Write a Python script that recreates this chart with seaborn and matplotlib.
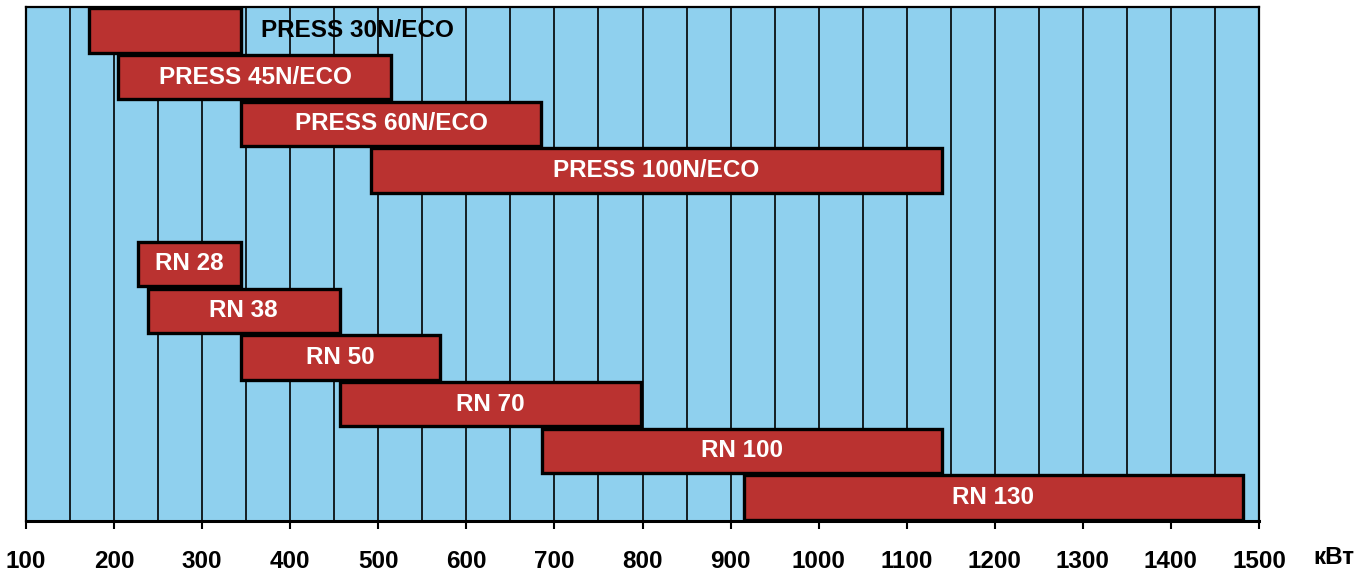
import matplotlib
matplotlib.use("Agg")
import matplotlib.pyplot as plt
from matplotlib.ticker import MultipleLocator
import seaborn as sns
import numpy as np

# ---- data ----
models = ["PRESS 30N/ECO", "PRESS 45N/ECO", "PRESS 60N/ECO", "PRESS 100N/ECO", "",
          "RN 28", "RN 38", "RN 50", "RN 70", "RN 100", "RN 130"]
power_min = [172, 205, 344, 492, None, 227, 238, 344, 456, 686, 915]
power_max = [344, 515, 685, 1140, None, 344, 456, 570, 798, 1140, 1482]
x_ticks = [100, 200, 300, 400, 500, 600, 700, 800, 900, 1000, 1100, 1200, 1300, 1400, 1500]
unit_label = "кВт"

sns.set_theme(style="white")
plt.rcParams["font.family"] = ["Liberation Sans", "DejaVu Sans"]
plt.rcParams["font.weight"] = "bold"

BLUE = "#8FD0EE"
RED = "#BA3230"
FS = 17.5

fig = plt.figure(figsize=(13.71, 5.74), dpi=100)
ax = fig.add_axes([26/1371, 1 - 521/574, (1259-26)/1371, (521-7)/574])
ax.set_facecolor(BLUE)

ypos = np.arange(len(models))
for i, (name, lo, hi) in enumerate(zip(models, power_min, power_max)):
    if lo is None:
        continue
    ax.barh(ypos[i], hi - lo, left=lo, height=0.95, color=RED,
            edgecolor="black", linewidth=2.4, zorder=3)
    if i == 0:
        ax.text(476, ypos[i], name, ha="center", va="center", color="black",
                fontsize=FS, fontweight="bold", zorder=4)
    else:
        ax.text((lo + hi) / 2, ypos[i], name, ha="center", va="center", color="white",
                fontsize=FS, fontweight="bold", zorder=4)

ax.set_xlim(x_ticks[0], x_ticks[-1])
ax.set_ylim(len(models) - 0.5, -0.5)
ax.set_xticks(x_ticks)
ax.set_xticklabels([str(t) for t in x_ticks], fontsize=FS, fontweight="bold", color="black")
ax.xaxis.set_minor_locator(MultipleLocator(50))
ax.set_yticks([])
ax.grid(False)
ax.grid(True, which="both", axis="x", color="black", linewidth=1.2, zorder=1)
ax.set_axisbelow(True)
ax.tick_params(axis="x", which="major", direction="out", length=6, width=1.5,
               color="black", pad=15, bottom=True)
ax.tick_params(axis="x", which="minor", length=0)
for s in ax.spines.values():
    s.set_visible(True)
    s.set_color("black")
    s.set_linewidth(1.6)
ax.spines["bottom"].set_linewidth(2.2)

fig.text(1334/1371, 1 - 558/574, unit_label, ha="center", va="center",
         fontsize=FS, fontweight="bold", color="black")

fig.savefig("out.png", dpi=100, facecolor="white")
